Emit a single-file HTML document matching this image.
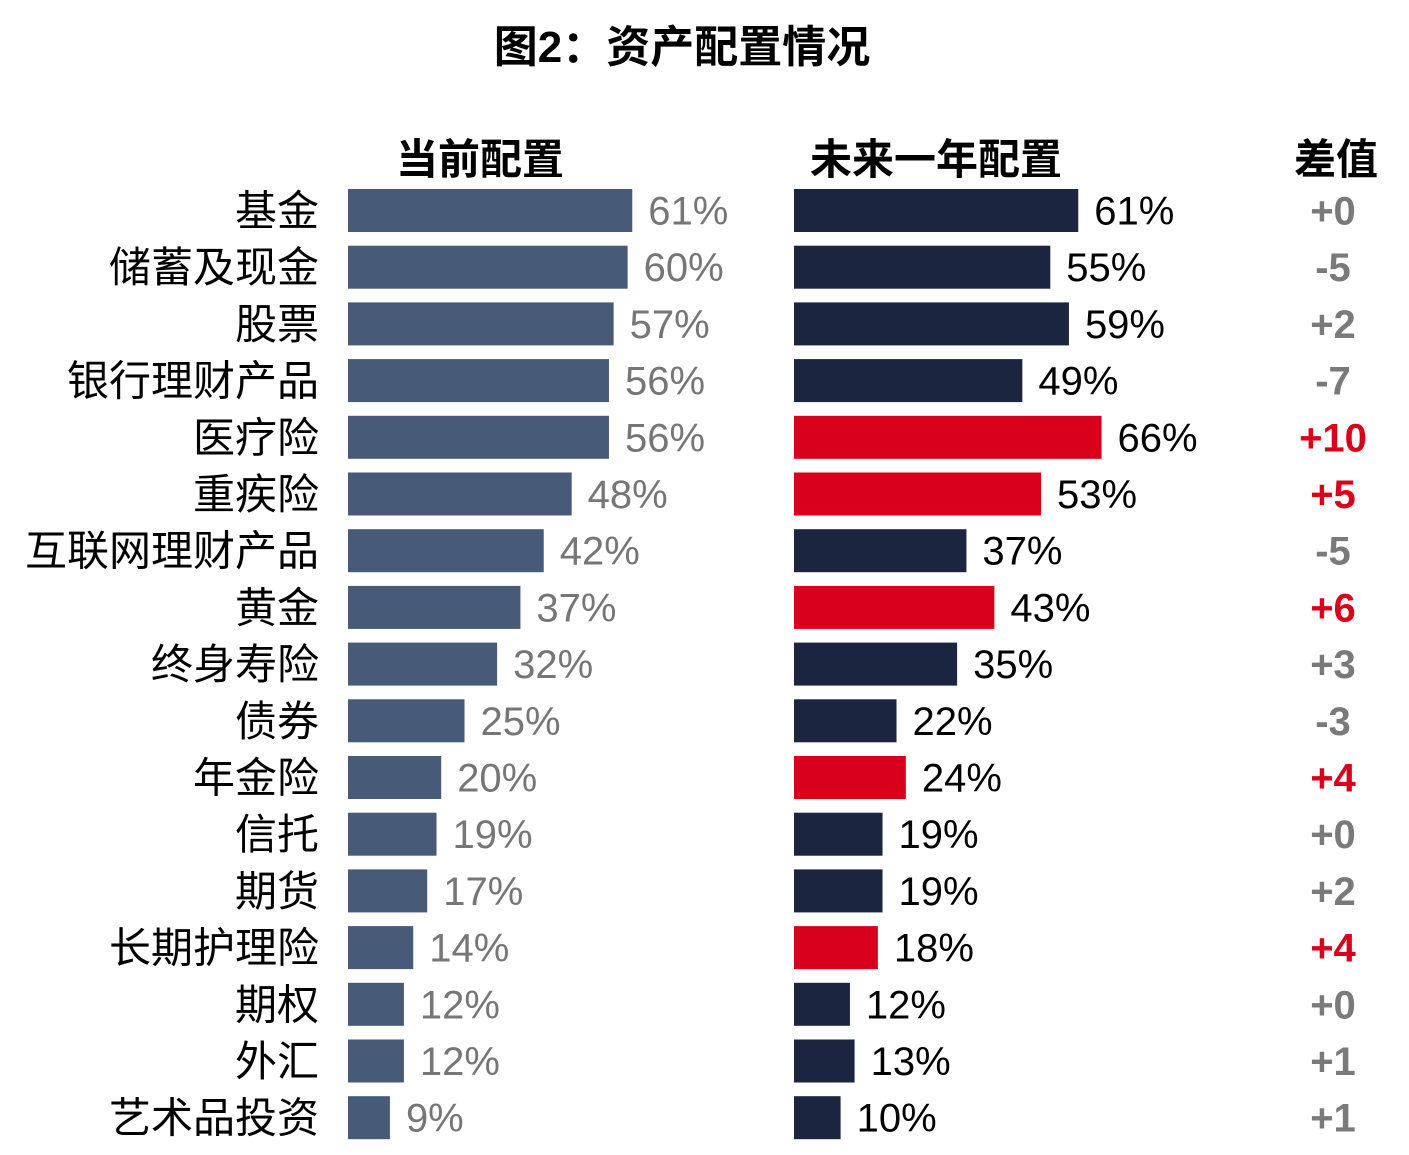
<!DOCTYPE html>
<html><head><meta charset="utf-8">
<style>
html,body{margin:0;padding:0;background:#fff;}
svg{display:block;font-family:"Liberation Sans","Noto Sans CJK SC",sans-serif;}
</style></head>
<body>
<svg id="chart" width="1409" height="1155" viewBox="0 0 1409 1155" xmlns="http://www.w3.org/2000/svg">
<text x="682" y="62" text-anchor="middle" font-size="44" font-weight="bold" fill="#000">图2：资产配置情况</text>
<text x="480" y="174" text-anchor="middle" font-size="42" font-weight="bold" fill="#000">当前配置</text>
<text x="936" y="174" text-anchor="middle" font-size="42" font-weight="bold" fill="#000">未来一年配置</text>
<text x="1336" y="174" text-anchor="middle" font-size="42" font-weight="bold" fill="#000">差值</text>
<g id="rows"></g>
</svg>
<script>
const categories = ["基金","储蓄及现金","股票","银行理财产品","医疗险","重疾险","互联网理财产品","黄金","终身寿险","债券","年金险","信托","期货","长期护理险","期权","外汇","艺术品投资"];
const currentValues = [61,60,57,56,56,48,42,37,32,25,20,19,17,14,12,12,9];
const futureValues = [61,55,59,49,66,53,37,43,35,22,24,19,19,18,12,13,10];
const diffLabels = ["+0","-5","+2","-7","+10","+5","-5","+6","+3","-3","+4","+0","+2","+4","+0","+1","+1"];
const highlighted = [false,false,false,false,true,true,false,true,false,false,true,false,false,true,false,false,false];

const NS = "http://www.w3.org/2000/svg";
const g = document.getElementById("rows");
const scale = 4.66;
const leftX = 348, rightX = 794;
const rowTop = i => 189 + i * 56.7;
const barH = 43;
function mk(tag, attrs){ const e=document.createElementNS(NS,tag); for(const k in attrs) e.setAttribute(k,attrs[k]); return e; }

categories.forEach((c, i) => {
  const y = rowTop(i), cy = y + barH/2;
  const lab = mk("text",{x:319,y:cy+15,"text-anchor":"end","font-size":42,fill:"#000"});
  
  
  lab.textContent = c; g.appendChild(lab);

  const w1 = currentValues[i]*scale;
  const b1 = mk("rect",{x:leftX,y:y,width:w1,height:barH,fill:"#475a78"});
  
  
  g.appendChild(b1);
  const t1 = mk("text",{x:leftX+w1+16,y:cy+14,"font-size":40,fill:"#767676"});
  
  
  t1.textContent = currentValues[i]+"%"; g.appendChild(t1);

  const w2 = futureValues[i]*scale;
  const b2 = mk("rect",{x:rightX,y:y,width:w2,height:barH,fill:highlighted[i]?"#d9001b":"#1b2540"});
  
  
  g.appendChild(b2);
  const t2 = mk("text",{x:rightX+w2+16,y:cy+14,"font-size":40,fill:"#000"});
  
  
  t2.textContent = futureValues[i]+"%"; g.appendChild(t2);

  const d = mk("text",{x:1333,y:cy+14,"text-anchor":"middle","font-size":40,"font-weight":"bold",fill:highlighted[i]?"#d9001b":"#7a7a7a"});
  
  
  d.textContent = diffLabels[i]; g.appendChild(d);
});
</script>
</body></html>
